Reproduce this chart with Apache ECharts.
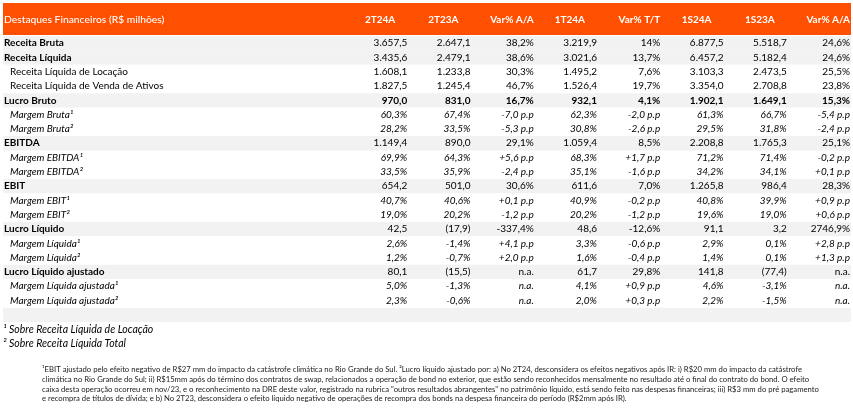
<!DOCTYPE html>
<html><head><meta charset="utf-8">
<script src="https://cdn.jsdelivr.net/npm/echarts@6/dist/echarts.min.js"></script>
<style>html,body{margin:0;padding:0;background:#fff}#c{width:853px;height:411px}</style>
</head><body><div id="c"></div>
<script>
const title = 'Destaques Financeiros (R$ milhões)';
const columns = ['2T24A','2T23A','Var% A/A','1T24A','Var% T/T','1S24A','1S23A','Var% A/A'];
const columnKinds = ['period','period','var','period','var','period','period','var'];
const rowLabels = ['Receita Bruta','Receita Líquida','Receita Líquida de Locação','Receita Líquida de Venda de Ativos','Lucro Bruto','Margem Bruta¹','Margem Bruta²','EBITDA','Margem EBITDA¹','Margem EBITDA²','EBIT','Margem EBIT¹','Margem EBIT²','Lucro Líquido','Margem Líquida¹','Margem Líquida²','Lucro Líquido ajustado','Margem Líquida ajustada¹','Margem Líquida ajustada²',''];
const rowKinds = ['head','head','sub','sub','total','margin','margin','head','margin','margin','head','margin','margin','head','margin','margin','head','margin','margin','blank'];
const v2T24A = ['3.657,5','3.435,6','1.608,1','1.827,5','970,0','60,3%','28,2%','1.149,4','69,9%','33,5%','654,2','40,7%','19,0%','42,5','2,6%','1,2%','80,1','5,0%','2,3%',''];
const v2T23A = ['2.647,1','2.479,1','1.233,8','1.245,4','831,0','67,4%','33,5%','890,0','64,3%','35,9%','501,0','40,6%','20,2%','(17,9)','-1,4%','-0,7%','(15,5)','-1,3%','-0,6%',''];
const varAA2T = ['38,2%','38,6%','30,3%','46,7%','16,7%','-7,0 p.p','-5,3 p.p','29,1%','+5,6 p.p','-2,4 p.p','30,6%','+0,1 p.p','-1,2 p.p','-337,4%','+4,1 p.p','+2,0 p.p','n.a.','n.a.','n.a.',''];
const v1T24A = ['3.219,9','3.021,6','1.495,2','1.526,4','932,1','62,3%','30,8%','1.059,4','68,3%','35,1%','611,6','40,9%','20,2%','48,6','3,3%','1,6%','61,7','4,1%','2,0%',''];
const varTT = ['14%','13,7%','7,6%','19,7%','4,1%','-2,0 p.p','-2,6 p.p','8,5%','+1,7 p.p','-1,6 p.p','7,0%','-0,2 p.p','-1,2 p.p','-12,6%','-0,6 p.p','-0,4 p.p','29,8%','+0,9 p.p','+0,3 p.p',''];
const v1S24A = ['6.877,5','6.457,2','3.103,3','3.354,0','1.902,1','61,3%','29,5%','2.208,8','71,2%','34,2%','1.265,8','40,8%','19,6%','91,1','2,9%','1,4%','141,8','4,6%','2,2%',''];
const v1S23A = ['5.518,7','5.182,4','2.473,5','2.708,8','1.649,1','66,7%','31,8%','1.765,3','71,4%','34,1%','986,4','39,9%','19,0%','3,2','0,1%','0,1%','(77,4)','-3,1%','-1,5%',''];
const varAA1S = ['24,6%','24,6%','25,5%','23,8%','15,3%','-5,4 p.p','-2,4 p.p','25,1%','-0,2 p.p','+0,1 p.p','28,3%','+0,9 p.p','+0,6 p.p','2746,9%','+2,8 p.p','+1,3 p.p','n.a.','n.a.','n.a.',''];
const legendNotes = ['¹ Sobre Receita Líquida de Locação','² Sobre Receita Líquida Total'];
const footLines = [
 '¹EBIT ajustado pelo efeito negativo de R$27 mm do impacto da catástrofe climática no Rio Grande do Sul. ²Lucro líquido ajustado por: a) No 2T24, desconsidera os efeitos negativos após IR: i) R$20 mm do impacto da catástrofe',
 'climática no Rio Grande do Sul; ii) R$15mm após do término dos contratos de swap, relacionados a operação de bond no exterior, que estão sendo reconhecidos mensalmente no resultado até o final do contrato do bond. O efeito',
 'caixa desta operação ocorreu em nov/23, e o reconhecimento na DRE deste valor, registrado na rubrica "outros resultados abrangentes" no patrimônio líquido, está sendo feito nas despesas financeiras; iii) R$3 mm do pré pagamento',
 'e recompra de títulos de dívida; e b) No 2T23, desconsidera o efeito líquido negativo de operações de recompra dos bonds na despesa financeira do período (R$2mm após IR).'
];

const cols = [v2T24A, v2T23A, varAA2T, v1T24A, varTT, v1S24A, v1S23A, varAA1S];
const FONT = 'Lato, "Liberation Sans", sans-serif';
const ORANGE = '#fe5000';
const GRAY = '#f2f2f2';

const cellData = [];
cols.forEach((arr, c) => arr.forEach((t, r) => { if (t) cellData.push([c, r]); }));
const bgData = [];
rowKinds.forEach((k, r) => { if (k === 'head' || k === 'total' || k === 'blank') bgData.push([0, r]); });
const labelData = rowLabels.map((t, r) => [0, r]).filter(d => rowLabels[d[1]]);

const chart = echarts.init(document.getElementById('c'), null, {renderer: 'canvas'});
chart.setOption({
  animation: false,
  grid: {left: 346, right: 1, top: 36, bottom: 89},
  xAxis: {type: 'category', data: columns, show: false},
  yAxis: {type: 'category', data: rowLabels, inverse: true, show: false},
  graphic: [
    {type: 'rect', z: -1, shape: {x: 3, y: 3, width: 848, height: 32}, style: {fill: ORANGE}},
    {type: 'text', z: 5, style: {text: title, x: 4, y: 19.5, verticalAlign: 'middle', fill: '#fff', fontSize: 10.3, fontFamily: FONT, fontWeight: 500}},
    ...legendNotes.map((t, i) => ({type: 'text', style: {text: t, x: 3, y: 330 + i * 13.8, verticalAlign: 'middle', fill: '#000', fontSize: 10.5, fontStyle: 'italic', fontFamily: FONT}})),
    ...footLines.map((t, i) => ({type: 'text', style: {text: t, x: 42, y: 370 + i * 9.6, verticalAlign: 'middle', fill: '#222', fontSize: 7.7, fontFamily: FONT}}))
  ],
  series: [
    {
      type: 'custom', z: 1, data: bgData, silent: true,
      renderItem: function (params, api) {
        const p = api.coord([0, api.value(1)]);
        const h = api.size([0, 1])[1];
        return {type: 'rect', shape: {x: 3, y: p[1] - h / 2, width: api.getWidth() - 5, height: h}, style: {fill: GRAY}};
      }
    },
    {
      type: 'custom', z: 3, data: columns.map((c, i) => [i, 0]), silent: true,
      renderItem: function (params, api) {
        const c = api.value(0);
        const p = api.coord([c, 0]);
        const bw = api.size([1, 0])[0];
        const h = api.size([0, 1])[1];
        const pad = columnKinds[c] === 'var' ? 2 : 14;
        return {type: 'text', style: {text: columns[c], x: p[0] + bw / 2 - pad, y: p[1] - h / 2 - 16.5, align: 'right', verticalAlign: 'middle', fill: '#fff', fontSize: 10, fontWeight: 'bold', fontFamily: FONT}};
      }
    },
    {
      type: 'custom', z: 3, data: labelData, silent: true,
      renderItem: function (params, api) {
        const r = api.value(1);
        const p = api.coord([0, r]);
        const k = rowKinds[r];
        const bold = (k === 'head' || k === 'total');
        return {type: 'text', style: {text: rowLabels[r], x: bold ? 4 : 10, y: p[1], verticalAlign: 'middle', fill: '#000', fontSize: 10, fontWeight: bold ? 'bold' : 'normal', fontStyle: k === 'margin' ? 'italic' : 'normal', fontFamily: FONT}};
      }
    },
    {
      type: 'custom', z: 3, data: cellData, silent: true,
      renderItem: function (params, api) {
        const c = api.value(0), r = api.value(1);
        const p = api.coord([c, r]);
        const bw = api.size([1, 0])[0];
        const k = rowKinds[r];
        return {type: 'text', style: {text: cols[c][r], x: p[0] + bw / 2 - 2, y: p[1], align: 'right', verticalAlign: 'middle', fill: '#000', fontSize: 10, fontWeight: k === 'total' ? 'bold' : 'normal', fontStyle: k === 'margin' ? 'italic' : 'normal', fontFamily: FONT}};
      }
    }
  ]
});
</script></body></html>
